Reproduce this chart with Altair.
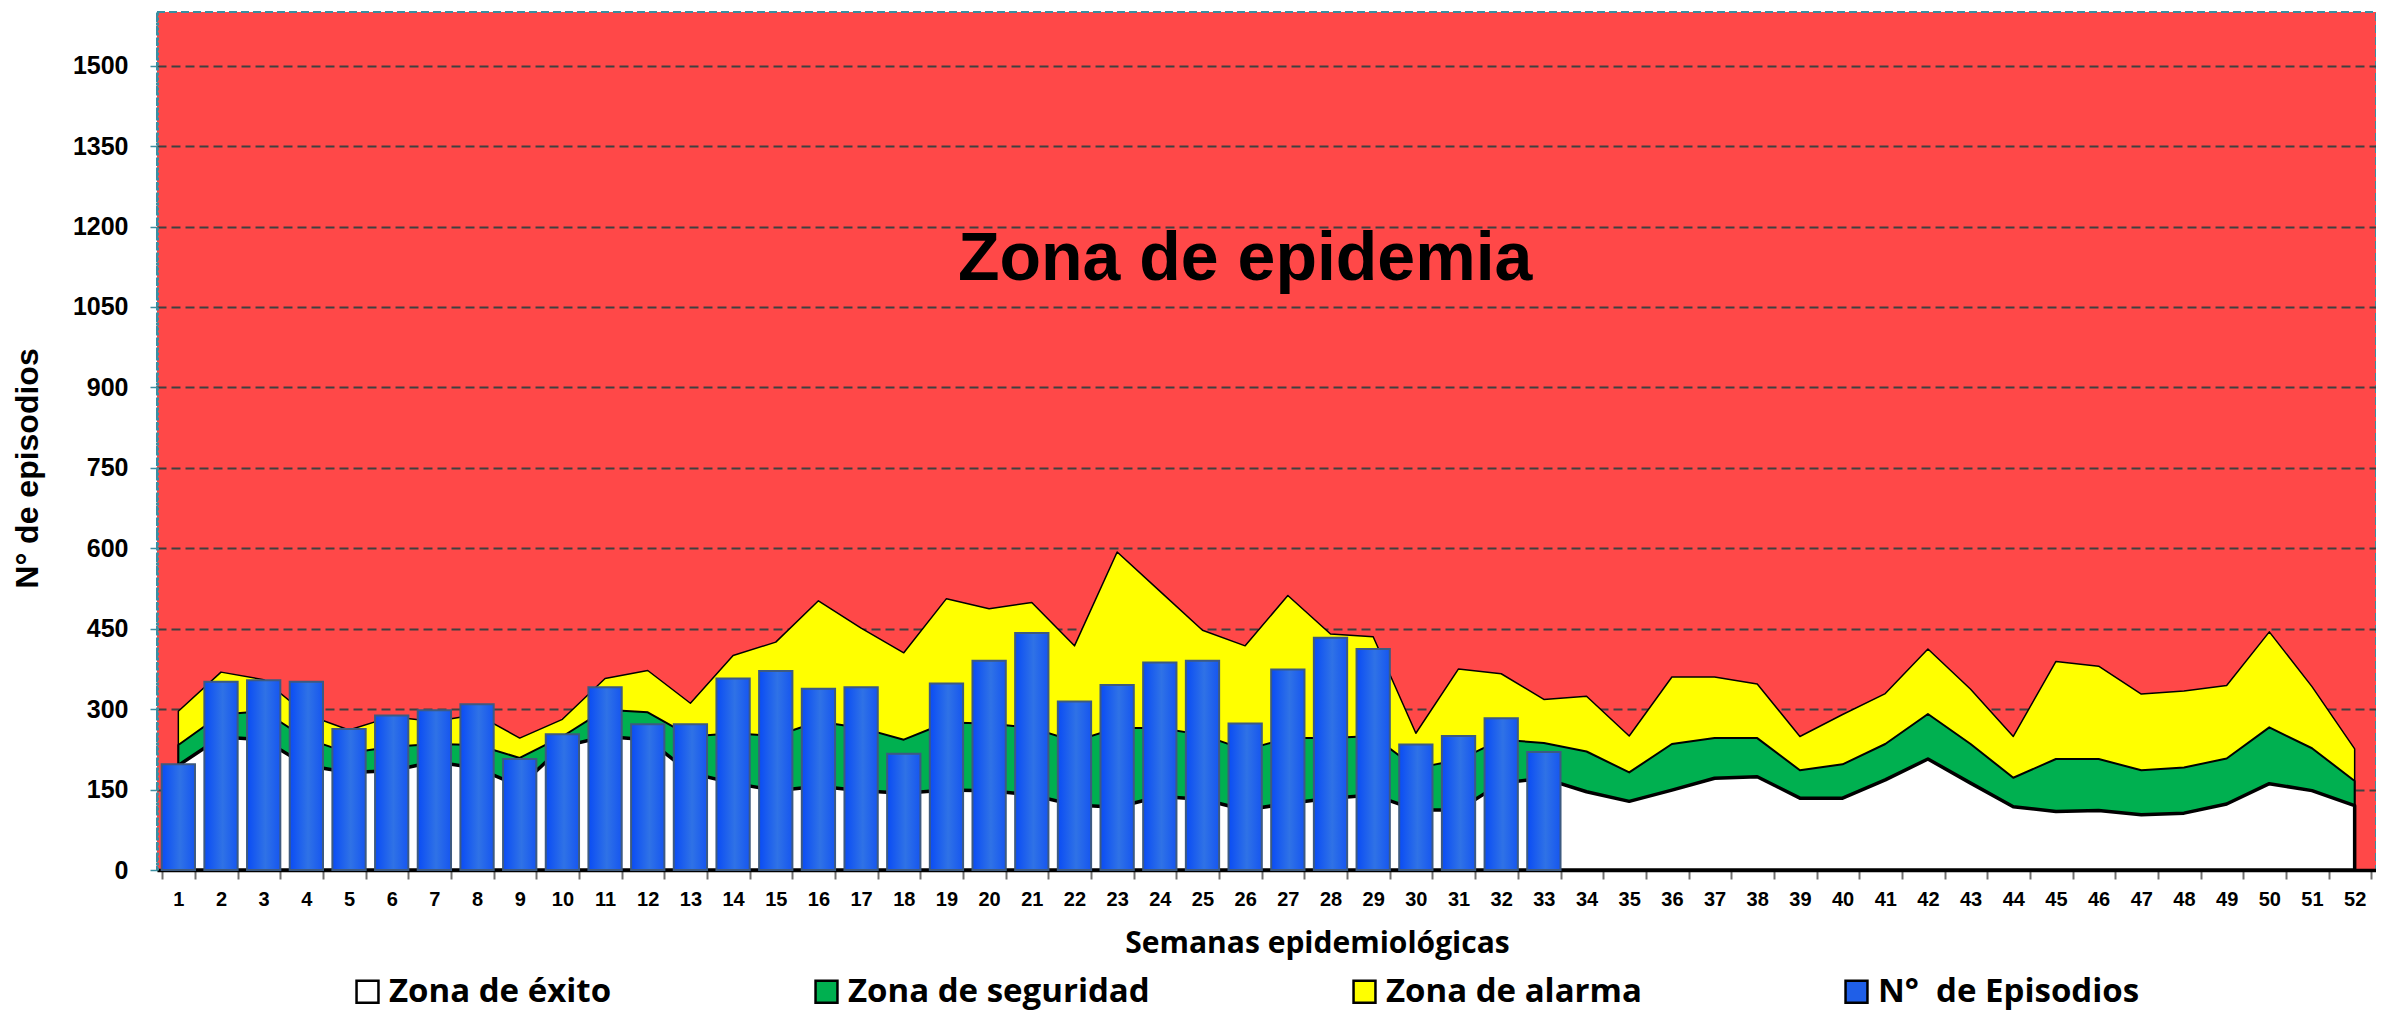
import altair as alt
import pandas as pd

semanas = list(range(1, 53))

# cumulative upper limits of each zone
exito = [195, 248, 243, 195, 182, 185, 202, 190, 156, 230,
         249, 243, 181, 162, 148, 156, 148, 143, 149, 148,
         140, 121, 117, 137, 132, 112, 124, 134, 140, 112,
         112, 162, 171, 146, 128, 149, 171, 174, 134, 134,
         168, 207, 162, 118, 109, 111, 103, 106, 123, 161,
         148, 120]
seguridad = [233, 290, 296, 245, 218, 230, 235, 233, 209, 249,
             299, 294, 249, 255, 250, 277, 265, 243, 275, 273,
             265, 240, 265, 265, 252, 224, 246, 246, 250, 190,
             205, 243, 237, 221, 182, 235, 246, 246, 186, 197,
             235, 291, 235, 172, 207, 207, 186, 191, 208, 266,
             227, 166]
alarma = [296, 369, 355, 290, 261, 286, 277, 290, 246, 281,
          357, 372, 311, 400, 425, 502, 451, 405, 506, 487,
          499, 418, 593, 520, 447, 418, 512, 440, 435, 255,
          375, 366, 318, 324, 250, 360, 360, 347, 249, 290,
          329, 412, 337, 249, 389, 380, 328, 334, 344, 444,
          342, 226]
episodios = [197, 351, 354, 351, 263, 288, 298, 309, 207, 253,
             341, 272, 272, 357, 371, 338, 341, 217, 348, 390,
             442, 314, 345, 387, 390, 273, 374, 433, 412, 234,
             250, 283, 220]

y_ticks = list(range(0, 1501, 150))
zonas = ["Zona de éxito", "Zona de seguridad", "Zona de alarma", "N°\u00a0 de Episodios"]
colores = ["#ffffff", "#00b050", "#ffff00", "#1f5fe8"]
etiqueta = ["Zona de epidemia"]

df = pd.DataFrame({"semana": semanas, "exito": exito,
                   "seguridad": seguridad, "alarma": alarma})
dfb = pd.DataFrame({"semana": semanas[:len(episodios)], "episodios": episodios})
dft = pd.DataFrame({"semana": [26], "pos": [1100], "t": etiqueta})

xenc = alt.X(
    "semana:O",
    scale=alt.Scale(paddingInner=0.22, paddingOuter=0.11),
    title="Semanas epidemiológicas",
    axis=alt.Axis(
        labelAngle=0, labelFont="Liberation Sans", labelFontWeight="bold",
        labelFontSize=20, labelColor="black", labelPadding=10,
        tickBand="extent", tickColor="#707070", tickWidth=2, tickSize=9,
        domainColor="black", domainWidth=3.5, grid=False,
        titleFont="Open Sans", titleFontWeight="bold", titleFontSize=30,
        titleColor="black", titleX=1160, titleY=73,
        titleBaseline="middle", titleAlign="center",
    ),
)

yscale = alt.Scale(domain=[0, 1600], nice=False)
yaxis = alt.Axis(
    values=y_ticks, format="d", labelFont="Liberation Sans", labelFontWeight="bold",
    labelFontSize=25, labelColor="black", labelPadding=22,
    tickColor="#3a8ea0", tickSize=7, tickWidth=1.5,
    domainColor="#3a8ea0", domainWidth=3, domainDash=[3, 2],
    grid=True, gridColor="#404040", gridWidth=2, gridDash=[9, 5],
    titleFont="Liberation Sans", titleFontWeight="bold", titleFontSize=32,
    titleColor="black", titleX=-130, titleY=456, titleAngle=270,
    titleAlign="center", titleBaseline="middle",
)
ytitle = "N° de episodios"

cscale = alt.Scale(domain=zonas, range=colores)
legend = alt.Legend(
    orient="none", legendX=194, legendY=963, direction="horizontal",
    title=None, symbolType="square", symbolSize=480,
    symbolStrokeColor="black", symbolStrokeWidth=2.5,
    labelFont="Open Sans", labelFontWeight="bold", labelFontSize=33,
    labelColor="black", labelOffset=5, columnPadding=198, padding=0,
    labelLimit=1000,
)


def zona(field, label, sw):
    return (
        alt.Chart(df)
        .transform_calculate(zona=f"'{label}'")
        .mark_area(stroke="black", strokeWidth=sw, strokeJoin="round")
        .encode(
            x=xenc,
            y=alt.Y(f"{field}:Q", stack=None, scale=yscale, axis=yaxis, title=ytitle),
            color=alt.Color("zona:N", scale=cscale, legend=legend),
        )
    )


a_alarma = zona("alarma", zonas[2], 1.5)
a_seg = zona("seguridad", zonas[1], 2)
a_exito = zona("exito", zonas[0], 3.5)

grad = alt.LinearGradient(
    gradient="linear",
    stops=[
        alt.GradientStop(color="#0a4cf5", offset=0),
        alt.GradientStop(color="#2f72e6", offset=0.55),
        alt.GradientStop(color="#1656f0", offset=1),
    ],
    x1=0, x2=1, y1=0, y2=0,
)
bars = alt.Chart(dfb).mark_bar(fill=grad, stroke="#3d5a80", strokeWidth=2).encode(
    x=xenc,
    y=alt.Y("episodios:Q", scale=yscale, axis=yaxis, title=ytitle),
)

txt = alt.Chart(dft).mark_text(
    font="Liberation Sans", fontWeight="bold", fontSize=68, color="black",
    baseline="alphabetic", align="center",
).encode(
    x=xenc,
    y=alt.Y("pos:Q", scale=yscale, axis=yaxis, title=ytitle),
    text="t:N",
)

chart = (
    alt.layer(a_alarma, a_seg, a_exito, bars, txt)
    .properties(
        width=2219, height=858,
        autosize=alt.AutoSizeParams(type="none"),
        padding={"left": 149, "top": 4, "right": 0, "bottom": 143},
    )
    .configure_view(fill="#ff4848", stroke="#3a8ea0", strokeWidth=2, strokeDash=[8, 4])
)

chart.save("out.html", embed_options={"renderer": "svg", "actions": False})
